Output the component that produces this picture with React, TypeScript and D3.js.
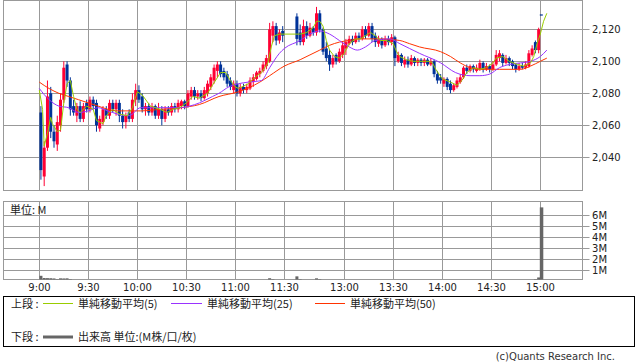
import React from 'react';
import * as d3 from 'd3';

// 2-minute bars: [time, open, high, low, close]
const amBars: [string, number, number, number, number][] = [
  ['9:00', 2068, 2072, 2026, 2032], ['9:02', 2028, 2050, 2022, 2046], ['9:04', 2046, 2088, 2044, 2078],
  ['9:06', 2080, 2084, 2052, 2056], ['9:08', 2056, 2060, 2046, 2050], ['9:10', 2048, 2066, 2044, 2062],
  ['9:12', 2060, 2080, 2056, 2076], ['9:14', 2076, 2100, 2074, 2096], ['9:16', 2098, 2100, 2084, 2088],
  ['9:18', 2088, 2090, 2066, 2070], ['9:20', 2072, 2076, 2066, 2068], ['9:22', 2066, 2074, 2062, 2072],
  ['9:24', 2072, 2075, 2062, 2064], ['9:26', 2064, 2074, 2062, 2072], ['9:28', 2074, 2076, 2068, 2070],
  ['9:30', 2070, 2078, 2068, 2076], ['9:32', 2076, 2078, 2070, 2072], ['9:34', 2074, 2076, 2056, 2060],
  ['9:36', 2058, 2066, 2056, 2064], ['9:38', 2062, 2072, 2060, 2070], ['9:40', 2070, 2072, 2064, 2066],
  ['9:42', 2066, 2076, 2064, 2074], ['9:44', 2074, 2076, 2068, 2070], ['9:46', 2070, 2076, 2066, 2074],
  ['9:48', 2074, 2076, 2062, 2066], ['9:50', 2066, 2070, 2058, 2062], ['9:52', 2062, 2068, 2058, 2066],
  ['9:54', 2068, 2070, 2062, 2064], ['9:56', 2064, 2080, 2062, 2076], ['9:58', 2076, 2086, 2072, 2082],
  ['10:00', 2082, 2085, 2074, 2076], ['10:02', 2078, 2080, 2068, 2070], ['10:04', 2070, 2074, 2066, 2072],
  ['10:06', 2072, 2074, 2066, 2068], ['10:08', 2068, 2074, 2066, 2072], ['10:10', 2072, 2073, 2064, 2066],
  ['10:12', 2066, 2074, 2064, 2070], ['10:14', 2070, 2072, 2060, 2064], ['10:16', 2064, 2072, 2062, 2070],
  ['10:18', 2070, 2072, 2066, 2068], ['10:20', 2068, 2074, 2066, 2072], ['10:22', 2072, 2074, 2068, 2070],
  ['10:24', 2070, 2076, 2068, 2074], ['10:26', 2072, 2076, 2070, 2075], ['10:28', 2075, 2076, 2070, 2072],
  ['10:30', 2072, 2082, 2071, 2080], ['10:32', 2078, 2084, 2076, 2082], ['10:34', 2082, 2084, 2076, 2078],
  ['10:36', 2078, 2082, 2076, 2080], ['10:38', 2080, 2082, 2075, 2077], ['10:40', 2077, 2084, 2076, 2082],
  ['10:42', 2080, 2088, 2078, 2086], ['10:44', 2084, 2092, 2082, 2090], ['10:46', 2088, 2098, 2086, 2096],
  ['10:48', 2094, 2100, 2090, 2098], ['10:50', 2098, 2100, 2090, 2092], ['10:52', 2094, 2096, 2088, 2090],
  ['10:54', 2092, 2094, 2084, 2086], ['10:56', 2088, 2090, 2082, 2084], ['10:58', 2082, 2088, 2080, 2086],
  ['11:00', 2086, 2088, 2078, 2080], ['11:02', 2080, 2086, 2078, 2084], ['11:04', 2084, 2086, 2080, 2082],
  ['11:06', 2082, 2086, 2080, 2084], ['11:08', 2083, 2090, 2082, 2088], ['11:10', 2087, 2092, 2084, 2090],
  ['11:12', 2089, 2094, 2088, 2093], ['11:14', 2092, 2096, 2090, 2094], ['11:16', 2094, 2100, 2093, 2098],
  ['11:18', 2097, 2104, 2095, 2102], ['11:20', 2100, 2124, 2099, 2120], ['11:22', 2116, 2125, 2112, 2122],
  ['11:24', 2122, 2124, 2110, 2113], ['11:26', 2113, 2120, 2111, 2118], ['11:28', 2119, 2122, 2112, 2116],
];

const pmBars: [string, number, number, number, number][] = [
  ['12:30', 2128, 2130, 2110, 2114], ['12:32', 2118, 2123, 2110, 2112], ['12:34', 2112, 2126, 2110, 2122],
  ['12:36', 2122, 2125, 2114, 2116], ['12:38', 2116, 2124, 2115, 2121], ['12:40', 2121, 2122, 2116, 2118],
  ['12:42', 2118, 2134, 2116, 2130], ['12:44', 2130, 2132, 2118, 2120], ['12:46', 2120, 2121, 2104, 2106],
  ['12:48', 2108, 2112, 2100, 2102], ['12:50', 2104, 2107, 2094, 2098], ['12:52', 2098, 2104, 2096, 2102],
  ['12:54', 2104, 2105, 2098, 2100], ['12:56', 2100, 2108, 2099, 2106], ['12:58', 2104, 2112, 2102, 2110],
  ['13:00', 2108, 2114, 2104, 2112], ['13:02', 2111, 2116, 2110, 2114], ['13:04', 2114, 2116, 2110, 2112],
  ['13:06', 2112, 2118, 2111, 2116], ['13:08', 2116, 2118, 2112, 2114], ['13:10', 2114, 2122, 2113, 2120],
  ['13:12', 2120, 2122, 2114, 2116], ['13:14', 2116, 2124, 2115, 2122], ['13:16', 2122, 2124, 2112, 2114],
  ['13:18', 2116, 2118, 2109, 2112], ['13:20', 2111, 2116, 2109, 2114], ['13:22', 2114, 2115, 2108, 2110],
  ['13:24', 2110, 2116, 2109, 2114], ['13:26', 2114, 2116, 2110, 2112], ['13:28', 2112, 2117, 2110, 2115],
  ['13:30', 2115, 2116, 2097, 2102], ['13:32', 2100, 2106, 2099, 2104], ['13:34', 2104, 2105, 2097, 2099],
  ['13:36', 2098, 2103, 2096, 2101], ['13:38', 2101, 2103, 2096, 2098], ['13:40', 2098, 2104, 2097, 2102],
  ['13:42', 2102, 2103, 2097, 2099], ['13:44', 2099, 2102, 2097, 2101], ['13:46', 2101, 2102, 2097, 2099],
  ['13:48', 2099, 2102, 2097, 2101], ['13:50', 2101, 2102, 2097, 2098], ['13:52', 2098, 2102, 2097, 2100],
  ['13:54', 2100, 2101, 2090, 2092], ['13:56', 2092, 2094, 2086, 2088], ['13:58', 2090, 2092, 2086, 2088],
  ['14:00', 2086, 2090, 2084, 2089], ['14:02', 2089, 2090, 2082, 2084], ['14:04', 2086, 2088, 2080, 2082],
  ['14:06', 2082, 2086, 2081, 2085], ['14:08', 2084, 2090, 2083, 2088], ['14:10', 2087, 2092, 2086, 2090],
  ['14:12', 2090, 2097, 2089, 2096], ['14:14', 2096, 2098, 2092, 2094], ['14:16', 2094, 2098, 2093, 2097],
  ['14:18', 2097, 2098, 2093, 2095], ['14:20', 2094, 2098, 2093, 2096], ['14:22', 2095, 2101, 2094, 2099],
  ['14:24', 2099, 2100, 2093, 2095], ['14:26', 2095, 2099, 2094, 2097], ['14:28', 2097, 2098, 2093, 2095],
  ['14:30', 2095, 2100, 2094, 2098], ['14:32', 2098, 2107, 2097, 2104], ['14:34', 2102, 2107, 2100, 2105],
  ['14:36', 2104, 2105, 2097, 2099], ['14:38', 2099, 2104, 2098, 2102], ['14:40', 2102, 2103, 2097, 2099],
  ['14:42', 2100, 2101, 2095, 2097], ['14:44', 2098, 2099, 2093, 2095], ['14:46', 2095, 2099, 2094, 2097],
  ['14:48', 2097, 2099, 2095, 2096], ['14:50', 2096, 2100, 2095, 2098], ['14:52', 2097, 2107, 2096, 2105],
  ['14:54', 2104, 2110, 2103, 2108], ['14:56', 2112, 2113, 2105, 2107], ['14:58', 2107, 2121, 2105, 2120],
];

const closeBar: [string, number, number, number, number] = ['15:00', 2129, 2129, 2129, 2129];

// volume in millions, one per bar
const amVol = [
  0.5, 0.3, 0.29, 0.28, 0.26, 0.2, 0.27, 0.26, 0.27, 0.2, 0.15, 0.12, 0.1, 0.12, 0.1, 0.1, 0.1, 0.12, 0.1, 0.1,
  0.1, 0.1, 0.1, 0.1, 0.1, 0.1, 0.1, 0.1, 0.12, 0.12, 0.1, 0.1, 0.1, 0.1, 0.1, 0.1, 0.1, 0.1, 0.1, 0.1,
  0.1, 0.1, 0.1, 0.1, 0.1, 0.1, 0.1, 0.1, 0.1, 0.1, 0.1, 0.1, 0.12, 0.1, 0.1, 0.1, 0.1, 0.1, 0.1, 0.1,
  0.1, 0.1, 0.1, 0.1, 0.1, 0.1, 0.1, 0.1, 0.12, 0.15, 0.28, 0.2, 0.15, 0.12, 0.1,
];
const pmVol = [
  0.45, 0.2, 0.15, 0.12, 0.12, 0.15, 0.27, 0.2, 0.15, 0.12, 0.15, 0.1, 0.1, 0.1, 0.1, 0.1, 0.1, 0.1, 0.1, 0.1,
  0.1, 0.1, 0.1, 0.1, 0.1, 0.1, 0.1, 0.1, 0.1, 0.1, 0.12, 0.1, 0.1, 0.1, 0.1, 0.1, 0.1, 0.1, 0.1, 0.1,
  0.1, 0.1, 0.12, 0.1, 0.1, 0.1, 0.1, 0.1, 0.1, 0.1, 0.1, 0.1, 0.1, 0.1, 0.1, 0.1, 0.1, 0.1, 0.1, 0.1,
  0.1, 0.12, 0.1, 0.1, 0.1, 0.1, 0.1, 0.1, 0.1, 0.1, 0.1, 0.12, 0.15, 0.2, 0.35,
];
const closeVol = 6.72;

// moving averages: [time, price]
const ma5: [string, number][] = [
  ['9:00', 2082], ['9:02', 2070], ['9:03', 2047], ['9:05', 2055], ['9:07', 2065], ['9:08', 2061], ['9:11', 2056],
  ['9:13', 2057], ['9:15', 2074], ['9:17', 2086], ['9:19', 2088], ['9:21', 2078], ['9:23', 2070], ['9:25', 2068],
  ['9:29', 2072], ['9:33', 2070], ['9:35', 2063], ['9:39', 2061], ['9:41', 2066], ['9:45', 2070], ['9:49', 2067],
  ['9:54', 2066], ['9:57', 2071], ['10:00', 2081], ['10:03', 2079], ['10:08', 2072], ['10:14', 2070], ['10:18', 2068],
  ['10:22', 2070], ['10:26', 2071], ['10:30', 2074], ['10:34', 2078], ['10:38', 2077], ['10:43', 2080], ['10:46', 2085],
  ['10:51', 2093], ['10:54', 2093], ['10:57', 2088], ['11:00', 2084], ['11:02', 2083], ['11:08', 2086], ['11:12', 2090],
  ['11:16', 2093], ['11:20', 2099], ['11:22', 2109], ['11:24', 2116], ['11:27', 2117], ['11:30', 2117],
  ['12:30', 2117], ['12:33', 2117], ['12:37', 2118], ['12:41', 2121], ['12:43', 2125], ['12:45', 2125], ['12:47', 2122],
  ['12:49', 2113], ['12:51', 2107], ['12:54', 2103], ['12:57', 2102], ['13:00', 2105], ['13:03', 2111], ['13:07', 2114],
  ['13:10', 2114], ['13:13', 2116], ['13:16', 2118], ['13:19', 2116], ['13:22', 2113], ['13:26', 2113], ['13:30', 2111],
  ['13:32', 2106], ['13:34', 2103], ['13:38', 2101], ['13:42', 2100], ['13:46', 2100], ['13:52', 2100], ['13:54', 2099],
  ['13:56', 2095], ['14:00', 2089], ['14:05', 2087], ['14:09', 2085], ['14:12', 2088], ['14:15', 2093], ['14:19', 2096],
  ['14:23', 2095], ['14:27', 2096], ['14:31', 2099], ['14:33', 2102], ['14:37', 2103], ['14:41', 2100], ['14:46', 2098],
  ['14:50', 2097], ['14:54', 2099], ['14:56', 2103], ['14:58', 2111], ['15:00', 2117], ['15:02', 2125], ['15:04', 2130],
];

const ma25: [string, number][] = [
  ['9:00', 2083], ['9:06', 2076], ['9:12', 2072], ['9:18', 2071], ['9:24', 2068], ['9:30', 2069], ['9:36', 2071],
  ['9:42', 2069], ['9:48', 2067], ['9:55', 2066], ['10:02', 2071], ['10:14', 2071], ['10:26', 2071], ['10:32', 2072],
  ['10:38', 2074], ['10:46', 2078], ['10:50', 2080], ['10:56', 2084], ['11:02', 2086], ['11:08', 2087], ['11:16', 2088],
  ['11:21', 2096], ['11:27', 2105], ['11:30', 2108], ['12:33', 2113], ['12:39', 2117], ['12:45', 2119], ['12:51', 2117],
  ['12:57', 2113], ['13:03', 2109], ['13:08', 2107], ['13:13', 2109], ['13:19', 2113], ['13:28', 2114], ['13:34', 2111],
  ['13:40', 2108], ['13:46', 2105], ['13:59', 2099], ['14:08', 2093], ['14:17', 2091], ['14:23', 2091], ['14:29', 2092],
  ['14:35', 2096], ['14:41', 2098], ['14:48', 2099], ['14:54', 2100], ['15:00', 2103], ['15:04', 2107],
];

const ma50: [string, number][] = [
  ['9:00', 2087], ['9:06', 2083], ['9:12', 2080], ['9:18', 2078], ['9:24', 2076], ['9:30', 2074], ['9:36', 2072],
  ['9:42', 2070], ['9:48', 2069], ['10:02', 2069], ['10:14', 2070], ['10:26', 2071], ['10:38', 2073], ['10:50', 2078],
  ['11:02', 2081], ['11:15', 2087], ['11:21', 2091], ['11:30', 2097], ['12:33', 2101], ['12:39', 2104], ['12:45', 2107],
  ['12:51', 2110], ['12:57', 2112], ['13:03', 2113], ['13:10', 2114], ['13:22', 2114], ['13:34', 2113], ['13:40', 2111],
  ['13:46', 2109], ['13:59', 2106], ['14:05', 2103], ['14:11', 2099], ['14:17', 2096], ['14:23', 2095], ['14:35', 2095],
  ['14:48', 2095], ['14:54', 2097], ['15:00', 2100], ['15:04', 2102],
];

const priceTicks = [2040, 2060, 2080, 2100, 2120];
const volTicks = [1, 2, 3, 4, 5, 6];
const timeTicks = ['9:00', '9:30', '10:00', '10:30', '11:00', '11:30', '13:00', '13:30', '14:00', '14:30', '15:00'];

const NUM_FONT = "'DejaVu Sans', Verdana, sans-serif";
const JP_FONT = "'Noto Sans CJK JP', 'DejaVu Sans', sans-serif";
const UP = '#ff0033';
const DOWN = '#003399';
const GRID = '#999999';

// morning minutes run straight on; the lunch break is squeezed into a short gap
function toSlot(t: string) {
  const [h, m] = t.split(':').map(Number);
  const mins = h * 60 + m - 540;
  return mins <= 150 ? mins : mins - 210 + 156.7;
}

const App = () => {
  const left = 3.5, right = 582.5;
  const x = d3.scaleLinear().domain([0, 306.7]).range([39.3, 540.3]);
  const y = d3.scaleLinear().domain([2040, 2120]).range([157.3, 29.3]);
  const yV = d3.scaleLinear().domain([0, 6]).range([281.3, 215.3]);
  const pTop = 0.5, pBot = 190.5, vTop = 201.5, vBot = 279.5;

  const bars = [...amBars, ...pmBars];
  const vols = [...amVol, ...pmVol];
  const bw = 3;

  const line = d3.line<[string, number]>().x(d => x(toSlot(d[0]))).y(d => y(d[1]));
  const smooth = d3.line<[string, number]>().x(d => x(toSlot(d[0]))).y(d => y(d[1])).curve(d3.curveMonotoneX);

  const gx = (t: string) => Math.round(x(toSlot(t))) + 0.5;

  return (
    <svg width={638} height={362} style={{ position: 'absolute', left: 0, top: 0, background: '#fff' }}>
      {/* price panel */}
      <rect x={left} y={pTop} width={right - left} height={pBot - pTop} fill="#fff" stroke={GRID} />
      {priceTicks.map(p => {
        const yy = Math.round(y(p)) + 0.5;
        return (
          <g key={p}>
            <line x1={left} x2={right + 7} y1={yy} y2={yy} stroke={GRID} />
            <text x={592} y={yy} dy="0.35em" fontSize={10} fontFamily={NUM_FONT} fill="#222">
              {d3.format(',')(p)}
            </text>
          </g>
        );
      })}
      {timeTicks.map(t => (
        <line key={t} x1={gx(t)} x2={gx(t)} y1={pTop} y2={pBot} stroke={GRID} />
      ))}

      {bars.map(([t, o, h, l, c]) => {
        const cx = x(toSlot(t) + 1);
        const col = c >= o ? UP : DOWN;
        const top = y(Math.max(o, c));
        const bh = Math.max(1, y(Math.min(o, c)) - top);
        return (
          <g key={t}>
            <line x1={cx} x2={cx} y1={y(h)} y2={y(l)} stroke={col} strokeWidth={1} />
            <rect x={cx - bw / 2} y={top} width={bw} height={bh} fill={col} />
          </g>
        );
      })}
      <rect x={x(toSlot(closeBar[0])) - 0.5} y={y(closeBar[4]) - 0.5} width={3} height={1.2} fill={DOWN} />

      <path d={smooth(ma50) || ''} fill="none" stroke="#ff3300" strokeWidth={1} />
      <path d={smooth(ma25) || ''} fill="none" stroke="#9933ff" strokeWidth={1} />
      <path d={line(ma5) || ''} fill="none" stroke="#99cc00" strokeWidth={1} />

      {/* volume panel */}
      <rect x={left} y={vTop} width={right - left} height={vBot - vTop} fill="#fff" stroke={GRID} />
      {volTicks.map(v => {
        const yy = Math.round(yV(v)) + 0.5;
        return (
          <g key={v}>
            <line x1={left} x2={right + 7} y1={yy} y2={yy} stroke={GRID} />
            <text x={592} y={yy} dy="0.35em" fontSize={10} fontFamily={NUM_FONT} fill="#222">
              {v}M
            </text>
          </g>
        );
      })}
      {timeTicks.map(t => (
        <g key={t}>
          <line x1={gx(t)} x2={gx(t)} y1={vTop} y2={vBot} stroke={GRID} />
          <text x={gx(t)} y={291} textAnchor="middle" fontSize={10} fontFamily={NUM_FONT} fill="#222">
            {t}
          </text>
        </g>
      ))}
      {bars.map(([t], i) => {
        const top = yV(vols[i]);
        if (top >= vBot) return null;
        return <rect key={t} x={x(toSlot(t) + 1) - 1.5} y={top} width={3} height={vBot - top} fill="#666" />;
      })}
      <rect x={x(toSlot(closeBar[0])) - 0.5} y={yV(closeVol)} width={3.5} height={vBot - yV(closeVol)} fill="#666" />
      <text x={10} y={214} fontSize={11} fontFamily={JP_FONT} fill="#222">単位: M</text>

      {/* legend */}
      <rect x={3.5} y={296.5} width={631} height={50} fill="#fff" stroke="#000" />
      <g fontSize={11} fontFamily={JP_FONT} fill="#222">
        <text x={11} y={307.5}>上段 :</text>
        <line x1={43} x2={73} y1={303.5} y2={303.5} stroke="#99cc00" />
        <text x={78} y={307.5}>単純移動平均(5)</text>
        <line x1={171} x2={202} y1={303.5} y2={303.5} stroke="#9933ff" />
        <text x={207} y={307.5}>単純移動平均(25)</text>
        <line x1={315} x2={345} y1={303.5} y2={303.5} stroke="#ff3300" />
        <text x={350} y={307.5}>単純移動平均(50)</text>
        <text x={11} y={341}>下段 :</text>
        <line x1={43} x2={73} y1={337} y2={337} stroke="#666" strokeWidth={3} />
        <text x={78} y={341}>出来高 単位:(M株/口/枚)</text>
      </g>
      <text x={615} y={360} textAnchor="end" fontSize={10} fontFamily={NUM_FONT} fill="#333">
        (c)Quants Research Inc.
      </text>
    </svg>
  );
};

export default App;
